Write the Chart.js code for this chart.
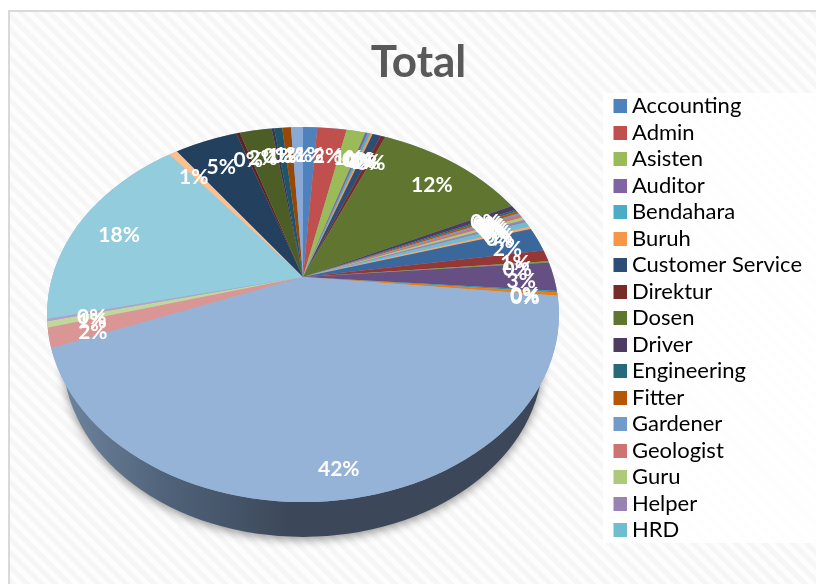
<!DOCTYPE html>
<html><head><meta charset="utf-8">
<style>
html,body{margin:0;padding:0;background:#fff;width:816px;height:584px;overflow:hidden}
#frame{position:absolute;left:8px;top:10px;width:830px;height:600px;border:2px solid #d9d9d9;
background:repeating-linear-gradient(45deg,#f6f6f6 0 4px,#fdfdfd 5px 9px,#f6f6f6 10px)}
canvas{position:absolute;left:0;top:0}
</style>
<script src="https://cdn.jsdelivr.net/npm/chart.js@4/dist/chart.umd.min.js"></script>
</head><body>
<div id="frame"></div>
<canvas id="c" width="816" height="584"></canvas>
<script>
// Category names: only the first 17 are readable in the reference legend.
const visibleCategories = ["Accounting","Admin","Asisten","Auditor","Bendahara","Buruh","Customer Service","Direktur","Dosen","Driver","Engineering","Fitter","Gardener","Geologist","Guru","Helper","HRD"];
const unseenCategories = ["Lainnya 18","Lainnya 19","Lainnya 20","Lainnya 21","Lainnya 22","Lainnya 23","Lainnya 24","Lainnya 25","Lainnya 26","Lainnya 27","Lainnya 28","Lainnya 29","Lainnya 30","Lainnya 31","Lainnya 32","Lainnya 33","Lainnya 34","Lainnya 35","Lainnya 36","Lainnya 37"];
const categories = visibleCategories.concat(unseenCategories);
// Share of the total in percent, read from the slice boundaries.
const values = [1.09,2.24,1.45,0.19,0.19,0.19,0.64,0.36,11.6,0.44,0.17,0.22,0.17,0.28,0.28,0.25,0.44,0.25,2.11,1.0,0.14,2.5,0.14,0.28,42.4,1.67,0.53,0.19,18.0,0.64,4.8,0.28,2.45,0.19,0.61,0.67,0.92];
const colors = ["#4F81BD","#C0504D","#9BBB59","#8064A2","#4BACC6","#F79646","#2C4D75","#772C2A","#5F7530","#4D3B62","#276A7C","#B65708","#729ACA","#CD7371","#AFC97A","#9983B5","#6FBDD1","#F9AA6B","#3A679C","#953735","#7E9C40","#664F82","#358FA7","#ED7D0F","#95B3D7","#D99694","#C3D69B","#B3A2C7","#93CDDD","#FAC08F","#23405F","#5E2321","#4C5D26","#3F2F50","#1F5564","#974806","#89AAD6"];
const titleText = "Total";

// Perspective look of the tilted disc
const apex = {x:303,y:277}, A = 251, B = 180, K = 0.2;
const rim = {cx:303,cy:314.5,rx:256,ry:187.5};
const base = {cx:303,cy:357,rx:240,ry:180};

function swatch(color){
  const s = document.createElement('canvas'); s.width = 14; s.height = 14;
  const g = s.getContext('2d'); g.fillStyle = color; g.fillRect(0,0,14,14);
  return s;
}

const discPlugin = {
  id:'disc',
  beforeDraw(chart){
    const ctx = chart.ctx, lg = chart.legend;
    ctx.save();
    ctx.fillStyle = 'rgba(255,255,255,0.85)';
    ctx.fillRect(603,93,213,450);
    ctx.restore();
    const w = lg.right - lg.left, h = lg.bottom - lg.top;
    lg.left = 618 - lg.options.labels.padding; lg.right = lg.left + w;
    lg.top = 90.5; lg.bottom = lg.top + h;
  },
  beforeDatasetsDraw(chart){
    const ctx = chart.ctx, arc = chart.getDatasetMeta(0).data[0];
    // side wall with drop shadow
    ctx.save();
    const grad = ctx.createLinearGradient(60,0,290,0);
    grad.addColorStop(0,'#6F859F'); grad.addColorStop(0.45,'#50637A'); grad.addColorStop(1,'#3C4859');
    ctx.shadowColor = 'rgba(0,0,0,0.4)'; ctx.shadowBlur = 10; ctx.shadowOffsetY = 3;
    ctx.fillStyle = grad;
    ctx.beginPath(); ctx.ellipse(base.cx,base.cy,base.rx,base.ry,0,0,Math.PI*2); ctx.fill();
    ctx.restore();
    // slices: library arcs, stretched around the apex and clipped to the rim
    ctx.save();
    ctx.beginPath(); ctx.ellipse(rim.cx,rim.cy,rim.rx,rim.ry,0,0,Math.PI*2); ctx.clip();
    ctx.fillStyle = colors[24];
    ctx.fillRect(0,0,816,584);
    const sx = 340/arc.outerRadius, sy = sx*B/A;
    ctx.translate(apex.x,apex.y); ctx.scale(sx,sy); ctx.translate(-arc.x,-arc.y);
  },
  afterDatasetsDraw(chart){
    const ctx = chart.ctx;
    ctx.restore();
    ctx.save();
    ctx.fillStyle = '#fff';
    ctx.font = 'bold 21px Lato';
    ctx.textAlign = 'center'; ctx.textBaseline = 'middle';
    const total = values.reduce((a,b)=>a+b,0);
    chart.getDatasetMeta(0).data.forEach((el,i)=>{
      const m = (el.startAngle+el.endAngle)/2, c = Math.cos(m), s = Math.sin(m);
      const r = 0.82 + 0.05*Math.max(s,0) + 0.05*Math.pow(Math.max(c,0),4);
      const d = 1 - K*r*s;
      ctx.fillText(Math.round(values[i]/total*100)+'%',
        apex.x + A*r*c/d, apex.y + 5 + B*r*s/d);
    });
    ctx.restore();
  }
};

new Chart(document.getElementById('c'),{
  type:'pie',
  data:{labels:categories,datasets:[{data:values,backgroundColor:colors,borderWidth:0}]},
  options:{
    responsive:false,animation:false,
    layout:{padding:{left:21,right:0,top:36,bottom:0}},
    plugins:{
      tooltip:{enabled:false},
      title:{display:true,text:titleText,color:'#595959',font:{family:'Lato',size:44,weight:'bold'},padding:{top:0,bottom:6}},
      legend:{position:'right',align:'start',
        labels:{
          color:'#595959',font:{family:'Lato',size:22},
          padding:4.5,usePointStyle:true,pointStyleWidth:3,boxHeight:14,
          filter:(item)=>item.index<visibleCategories.length,
          generateLabels:(chart)=>categories.map((t,i)=>({text:t,index:i,fillStyle:colors[i],strokeStyle:colors[i],lineWidth:0,hidden:false,pointStyle:swatch(colors[i])}))
        }}
    }
  },
  plugins:[discPlugin]
});
</script>
</body></html>
